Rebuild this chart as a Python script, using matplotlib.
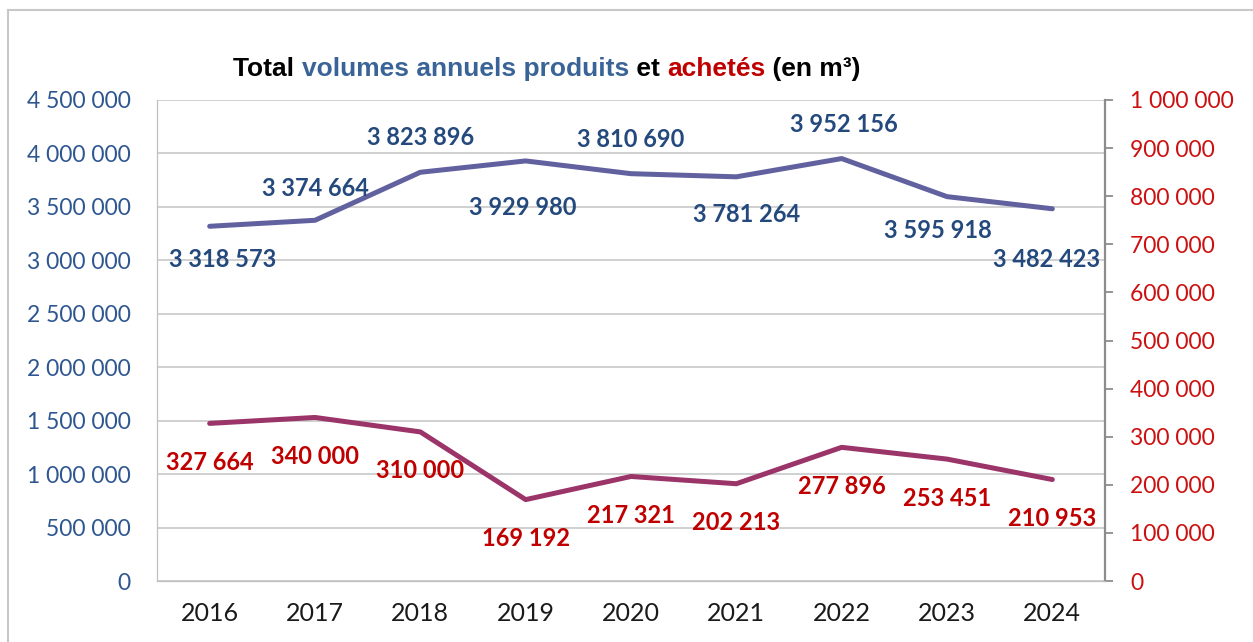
import matplotlib.pyplot as plt
from matplotlib.offsetbox import TextArea, HPacker, AnchoredOffsetbox
from matplotlib.lines import Line2D

years = ['2016', '2017', '2018', '2019', '2020', '2021', '2022', '2023', '2024']
produits = [3318573, 3374664, 3823896, 3929980, 3810690, 3781264, 3952156, 3595918, 3482423]
achetes = [327664, 340000, 310000, 169192, 217321, 202213, 277896, 253451, 210953]

left_ticks = [0, 500000, 1000000, 1500000, 2000000, 2500000, 3000000, 3500000, 4000000, 4500000]
right_ticks = [0, 100000, 200000, 300000, 400000, 500000, 600000, 700000, 800000, 900000, 1000000]

# label offsets (pixels) for the produced series, as placed in the original
prod_off = [(13, -33), (0, 32), (0, 35), (-3, -47), (0, 34), (10, -38), (2, 34), (-9, -34), (-6, -51)]

BLUE_TXT = '#24497C'
RED_TXT = '#C00000'
LINE_PROD = '#6161A0'
LINE_ACH = '#9B3468'
GRID = '#C8C8C8'

def fmt(v):
    return f'{v:,.0f}'.replace(',', ' ')

plt.rcParams['font.family'] = ['Lato', 'DejaVu Sans']

fig = plt.figure(figsize=(12.53, 6.42), dpi=100)
ax = fig.add_axes([157 / 1253, 61 / 642, 948 / 1253, 481 / 642])
ax2 = ax.twinx()

x = list(range(len(years)))
ax.plot(x, produits, color=LINE_PROD, lw=3.6, solid_capstyle='round', zorder=3)
ax2.plot(x, achetes, color=LINE_ACH, lw=3.6, solid_capstyle='round', zorder=3)

ax.set_xlim(-0.5, len(years) - 0.5)
ax.set_ylim(0, 4500000)
ax2.set_ylim(0, 1000000)

ax.set_yticks(left_ticks)
ax.set_yticklabels([fmt(v) for v in left_ticks], color='#2E5690', fontsize=16.5)
ax.tick_params(axis='y', length=0, pad=19)
ax.set_xticks(x)
ax.set_xticklabels(years, fontsize=18, color='#1A1A1A')
ax.tick_params(axis='x', length=0, pad=15)
ax.grid(axis='y', color=GRID, lw=1.2)
ax.set_axisbelow(True)

ax2.set_yticks(right_ticks)
ax2.set_yticklabels([fmt(v) for v in right_ticks], color='#CC1010', fontsize=16.5)
ax2.tick_params(axis='y', length=6, width=1.3, color='#8C8C8C', pad=12)

for a in (ax, ax2):
    a.spines['top'].set_visible(False)
    a.spines['left'].set_color('#BFBFBF')
    a.spines['bottom'].set_color('#BFBFBF')
    a.spines['right'].set_visible(False)
ax2.spines['right'].set_visible(True)
ax2.spines['right'].set_color('#8C8C8C')
ax2.spines['right'].set_linewidth(1.6)

for i, v in enumerate(produits):
    ax.annotate(fmt(v), (i, v), xytext=prod_off[i], textcoords='offset pixels',
                ha='center', va='center', color=BLUE_TXT, fontsize=17,
                fontweight='bold', zorder=5)

for i, v in enumerate(achetes):
    ax2.annotate(fmt(v), (i, v), xytext=(0, -39), textcoords='offset pixels',
                 ha='center', va='center', color=RED_TXT, fontsize=17,
                 fontweight='bold', zorder=5)

# title with coloured words
tfont = dict(fontsize=19, fontweight='bold', family=['Liberation Sans', 'DejaVu Sans'])
parts = [('Total ', 'black'), ('volumes annuels produits', '#3A6498'),
         (' et ', 'black'), ('achetés', RED_TXT), (' (en m³)', 'black')]
boxes = [TextArea(t, textprops=dict(color=c, **tfont)) for t, c in parts]
pack = HPacker(children=boxes, align='baseline', pad=0, sep=0)
title = AnchoredOffsetbox(loc='center', child=pack, frameon=False,
                          bbox_to_anchor=(547 / 1253, 1 - 69 / 642),
                          bbox_transform=fig.transFigure, borderpad=0)
fig.add_artist(title)

# outer frame (left and top edges)
fig.add_artist(Line2D([7.5 / 1253, 7.5 / 1253], [0, 1 - 9.5 / 642],
                      transform=fig.transFigure, color='#C8C8C8', lw=1.5))
fig.add_artist(Line2D([7.5 / 1253, 1], [1 - 9.5 / 642, 1 - 9.5 / 642],
                      transform=fig.transFigure, color='#C8C8C8', lw=1.5))

fig.savefig('out.png', dpi=100)
